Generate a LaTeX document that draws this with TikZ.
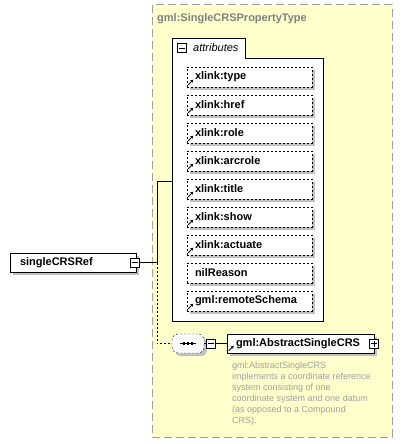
\documentclass[tikz,border=0pt]{standalone}
\usepackage{fontspec}
\setmainfont{Liberation Sans}
\usetikzlibrary{shadows,arrows.meta}
\definecolor{panelfill}{HTML}{FFFFCC}
\definecolor{panelline}{HTML}{A0A0A0}
\definecolor{titlegrey}{HTML}{808080}
\definecolor{descgrey}{HTML}{A0A0A0}
\definecolor{shadowgrey}{HTML}{C0C0C0}
\begin{document}
\begin{tikzpicture}[x=1pt,y=-1pt,
  shadowed/.style={drop shadow={shadow xshift=3pt,shadow yshift=-3pt,fill=shadowgrey,opacity=1}},
  lbl/.style={font=\fontsize{11}{13}\selectfont\bfseries},
  attr/.style={draw=black, dash pattern=on 2pt off 2pt, fill=white, shadowed,
    minimum width=125pt, minimum height=20pt, inner xsep=8pt, inner ysep=0pt,
    text width=109pt, align=left, lbl},
  elem/.style={draw=black, fill=white, shadowed, minimum height=19pt,
    inner ysep=0pt, align=left, lbl},
  togglebox/.style={draw=black, fill=white, minimum size=9pt, inner sep=0pt},
  minusbox/.style={togglebox, path picture={
    \draw ([xshift=1.5pt]path picture bounding box.west) -- ([xshift=-1.5pt]path picture bounding box.east);}},
  plusbox/.style={togglebox, path picture={
    \draw ([xshift=1.5pt]path picture bounding box.west) -- ([xshift=-1.5pt]path picture bounding box.east);
    \draw ([yshift=-1.5pt]path picture bounding box.north) -- ([yshift=1.5pt]path picture bounding box.south);}},
  linkarrow/.style={-{Stealth[length=3pt,width=3.2pt]}, line width=0.9pt},
  conn/.style={draw=black, line width=0.8pt},
]
\useasboundingbox (0,0) rectangle (403,444);
% outer panel
\draw[fill=panelfill, draw=panelline, line width=1pt, dash pattern=on 8pt off 4pt] (152,5) rectangle (392,437);
\node[anchor=west, text=titlegrey, lbl, inner sep=0pt] (title) at (157,19) {gml:SingleCRSPropertyType};
% attributes container
\draw[fill=white, draw=black, line width=0.8pt] (172,321) -- (172,38) -- (245,38) -- (245,58) -- (323,58) -- (323,321) -- cycle;
\node[minusbox] (attmin) at (181.5,48) {};
\node[anchor=west, inner sep=0pt, font=\fontsize{11}{13}\selectfont\itshape] (atttitle) at (193,48) {attributes};
\coordinate (attin) at (172,181);
% attributes
\node[attr] (a1) at (249.5,77) {xlink:type};
\node[attr] (a2) at (249.5,105) {xlink:href};
\node[attr] (a3) at (249.5,133) {xlink:role};
\node[attr] (a4) at (249.5,161) {xlink:arcrole};
\node[attr] (a5) at (249.5,189) {xlink:title};
\node[attr] (a6) at (249.5,217) {xlink:show};
\node[attr] (a7) at (249.5,245) {xlink:actuate};
\node[attr] (a8) at (249.5,273) {nilReason};
\node[attr] (a9) at (249.5,301) {gml:remoteSchema};
\foreach \n in {a1,a2,a3,a4,a5,a6,a7,a9}{
  \draw[linkarrow] ([shift={(1.5pt,2.5pt)}]\n.south west) -- ++(5pt,5pt);
}
% root element
\node[elem, minimum width=126pt, inner xsep=10pt, text width=106pt] (root) at (73,262.5) {singleCRSRef};
\node[minusbox] (rootmin) at (135,262.5) {};
% sequence
\node[rectangle, rounded corners=6pt, draw=black, dash pattern=on 2pt off 2pt,
  fill=white, shadowed, minimum width=32pt, minimum height=19pt, inner sep=0pt] (seq) at (188,343.5) {};
\draw[line width=0.8pt] ([xshift=-8pt]seq.center) -- ([xshift=8pt]seq.center);
\foreach \dx in {-4,0,4}{
  \fill ([xshift=\dx pt]seq.center) +(-1.2pt,-1.2pt) rectangle +(1.2pt,1.2pt);
}
\node[minusbox] (seqmin) at (211,343.5) {};
% abstract element
\node[elem, minimum width=147pt, inner xsep=9pt, text width=129pt] (abs) at (300.5,343.5) {gml:AbstractSingleCRS};
\node[plusbox] (absplus) at (374,343.5) {};
\draw[linkarrow] ([shift={(2pt,2.5pt)}]abs.south west) -- ++(5pt,5pt);
\node[anchor=north west, inner sep=0pt, align=left, text=descgrey,
  font=\fontsize{9}{11}\selectfont] (desc) at (232,361.5) {gml:AbstractSingleCRS\\implements a coordinate reference\\system consisting of one\\coordinate system and one datum\\(as opposed to a Compound\\CRS).};
% connectors
\coordinate (junc) at (157,262.5);
\draw[conn] (rootmin.east) -- (junc);
\draw[conn] (junc) |- (attin);
\draw[conn, dash pattern=on 2pt off 2pt] (junc) |- (seq.west);
\draw[conn] (seq.east) -- (seqmin.west);
\draw[conn] (seqmin.east) -- (abs.west);
\end{tikzpicture}
\end{document}
